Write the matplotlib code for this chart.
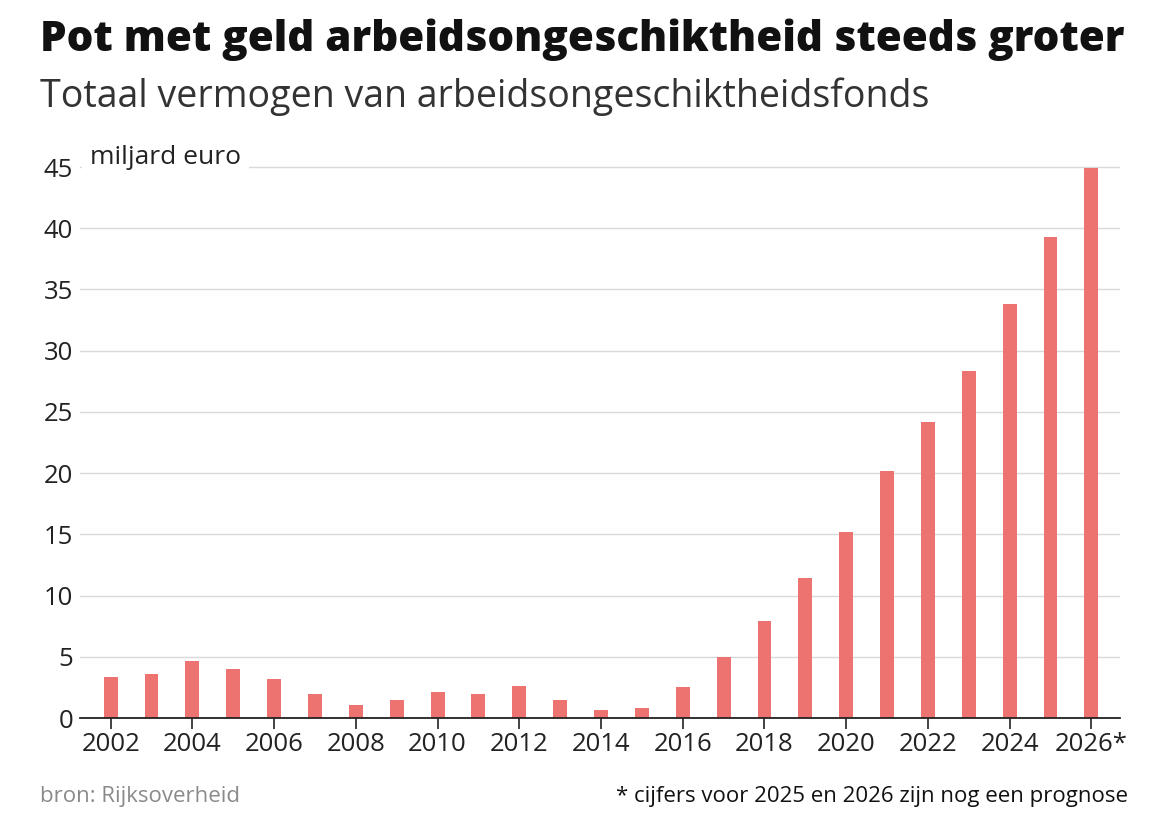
import numpy as np
import matplotlib.pyplot as plt

# data
jaren = list(range(2002, 2027))
vermogen = [3.35, 3.6, 4.65, 4.0, 3.2, 2.0, 1.05, 1.45, 2.1, 2.0, 2.6, 1.45,
            0.65, 0.8, 2.5, 5.0, 7.9, 11.4, 15.2, 20.2, 24.2, 28.3, 33.8, 39.3, 44.9]
yticks = [0, 5, 10, 15, 20, 25, 30, 35, 40, 45]
xticks = list(range(2002, 2027, 2))
xlabels = [str(j) for j in xticks[:-1]] + ['2026*']

plt.rcParams['font.family'] = ['Open Sans', 'DejaVu Sans']

fig = plt.figure(figsize=(11.7, 8.3), dpi=100)
ax = fig.add_axes([80/1170, 1 - 718/830, (1120-80)/1170, (718-160)/830])

ax.bar(jaren, vermogen, width=0.34, color='#EC7370', zorder=2)

ax.set_xlim(2002 - 0.75, 2026 + 0.7)
ax.set_ylim(0, 45 * (718-160)/(718-167))
ax.set_yticks(yticks)
ax.set_yticklabels([str(v) for v in yticks])
ax.set_xticks(xticks)
ax.set_xticklabels(xlabels)
ax.yaxis.grid(True, color='#d9d9d9', linewidth=1, zorder=0)
ax.tick_params(axis='y', length=0, pad=5, labelsize=18.5, labelcolor='#222222')
ax.tick_params(axis='x', length=8, width=1.2, direction='out', pad=2,
               labelsize=18.5, labelcolor='#222222', color='#222222')
for s in ['top', 'right', 'left']:
    ax.spines[s].set_visible(False)
ax.spines['bottom'].set_color('#222222')
ax.spines['bottom'].set_linewidth(1.3)

ax.text(90/1170, 1 - 158/830, 'miljard euro', transform=fig.transFigure,
        fontsize=19, color='#222222', va='center', ha='left',
        bbox=dict(facecolor='white', edgecolor='none', pad=6))

fig.text(40/1170, 1 - 40/830, 'Pot met geld arbeidsongeschiktheid steeds groter',
         fontsize=30.3, fontweight='extra bold', color='#111111', va='center', ha='left')
fig.text(40/1170, 1 - 97/830, 'Totaal vermogen van arbeidsongeschiktheidsfonds',
         fontsize=27, color='#333333', va='center', ha='left')
fig.text(40/1170, 1 - 796/830, 'bron: Rijksoverheid',
         fontsize=16, color='#8a8a8a', va='center', ha='left')
fig.text(1128/1170, 1 - 796/830, '* cijfers voor 2025 en 2026 zijn nog een prognose',
         fontsize=16, color='#111111', va='center', ha='right')

fig.savefig('out.png', dpi=100, facecolor='white')
